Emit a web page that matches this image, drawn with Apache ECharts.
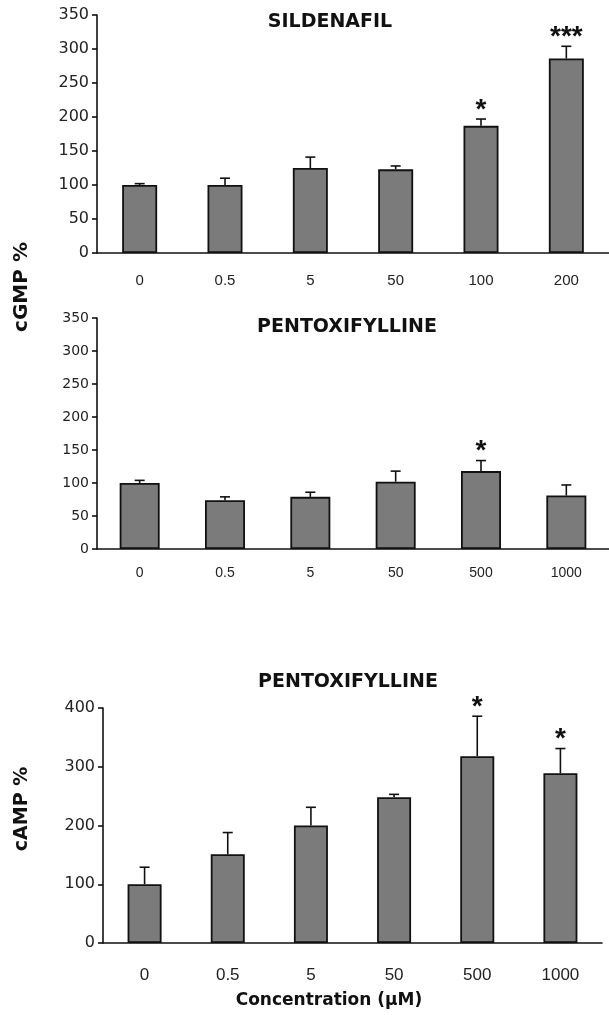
<!DOCTYPE html>
<html>
<head>
<meta charset="utf-8">
<script src="https://cdn.jsdelivr.net/npm/echarts@6/dist/echarts.min.js"></script>
<style>
  html, body { margin: 0; padding: 0; background: #fff; }
  #chart { width: 609px; height: 1015px; }
</style>
</head>
<body>
<div id="chart"></div>
<script>
// sildenafil, cGMP
var sildLabels = ['0', '0.5', '5', '50', '100', '200'];
var sildMean = [100, 100, 125, 123, 187, 286];
var sildErr = [2, 10, 16, 5, 10, 18];
var sildSig = ['', '', '', '', '*', '***'];

// pentoxifylline, cGMP
var pentoLabels = ['0', '0.5', '5', '50', '500', '1000'];
var gmpMean = [100, 74, 79, 102, 118, 81];
var gmpErr = [4, 5, 7, 16, 16, 16];
var gmpSig = ['', '', '', '', '*', ''];

// pentoxifylline, cAMP
var campMean = [100, 151, 200, 248, 318, 289];
var campErr = [29, 37, 31, 5, 68, 42];
var campSig = ['', '', '', '', '*', '*'];

var myChart = echarts.init(document.getElementById('chart'));

var black = '#111';
var barColor = '#7b7b7b';

function xAx(idx, labels, margin, size) {
  return {
    type: 'category', gridIndex: idx, data: labels,
    axisLine: { lineStyle: { color: black, width: 1.6 } },
    axisTick: { length: 5, lineStyle: { color: black, width: 1.6 } },
    axisLabel: { color: '#222', fontFamily: 'Liberation Sans', fontSize: size, margin: margin }
  };
}
function yAx(idx, max, step, size) {
  return {
    type: 'value', gridIndex: idx, min: 0, max: max, interval: step,
    axisLine: { show: true, lineStyle: { color: black, width: 1.6 } },
    axisTick: { show: true, length: 5, lineStyle: { color: black, width: 1.6 } },
    splitLine: { show: false },
    axisLabel: { color: '#222', fontFamily: 'DejaVu Sans', fontSize: size, margin: 8 }
  };
}
function bars(idx, vals, w) {
  return {
    type: 'bar', xAxisIndex: idx, yAxisIndex: idx, data: vals, barWidth: w,
    itemStyle: { color: barColor, borderColor: black, borderWidth: 1.8 },
    silent: true
  };
}
function errs(idx, vals, err, sig) {
  var d = vals.map(function (v, i) { return [i, v, err[i], sig[i]]; });
  return {
    type: 'custom', xAxisIndex: idx, yAxisIndex: idx, data: d, z: 5,
    renderItem: function (params, api) {
      var base = api.coord([api.value(0), api.value(1)]);
      var top = api.coord([api.value(0), api.value(1) + api.value(2)]);
      var s = d[params.dataIndex][3];
      var kids = [
        { type: 'line', shape: { x1: base[0], y1: base[1], x2: top[0], y2: top[1] }, style: { stroke: black, lineWidth: 1.6 } },
        { type: 'line', shape: { x1: top[0] - 5, y1: top[1], x2: top[0] + 5, y2: top[1] }, style: { stroke: black, lineWidth: 1.6 } }
      ];
      if (s) {
        kids.push({ type: 'text', style: { text: s, x: top[0], y: top[1] - 9, align: 'center', verticalAlign: 'middle',
          font: 'bold 28px "Liberation Sans"', fill: black } });
      }
      return { type: 'group', children: kids };
    }
  };
}
function txt(str, x, y, size, rot) {
  return {
    type: 'text', x: x, y: y, rotation: rot || 0,
    style: { text: str, align: 'center', verticalAlign: 'middle', font: 'bold ' + size + 'px "DejaVu Sans"', fill: black }
  };
}

option = {
  animation: false,
  grid: [
    { left: 97, top: 15, width: 512, height: 238 },
    { left: 97, top: 318, width: 512, height: 231 },
    { left: 103, top: 708, width: 499, height: 235 }
  ],
  xAxis: [xAx(0, sildLabels, 20, 15), xAx(1, pentoLabels, 17, 14), xAx(2, pentoLabels, 24, 17)],
  yAxis: [yAx(0, 350, 50, 16), yAx(1, 350, 50, 14), yAx(2, 400, 100, 16)],
  series: [
    bars(0, sildMean, 35), errs(0, sildMean, sildErr, sildSig),
    bars(1, gmpMean, 40), errs(1, gmpMean, gmpErr, gmpSig),
    bars(2, campMean, 34), errs(2, campMean, campErr, campSig)
  ],
  graphic: [
    txt('SILDENAFIL', 330, 22, 19),
    txt('PENTOXIFYLLINE', 347, 327, 19),
    txt('PENTOXIFYLLINE', 348, 682, 19),
    txt('cGMP %', 22, 287, 20, Math.PI / 2),
    txt('cAMP %', 22, 809, 19, Math.PI / 2),
    txt('Concentration (\u03bcM)', 329, 1001, 17)
  ]
};
myChart.setOption(option);
</script>
</body>
</html>
